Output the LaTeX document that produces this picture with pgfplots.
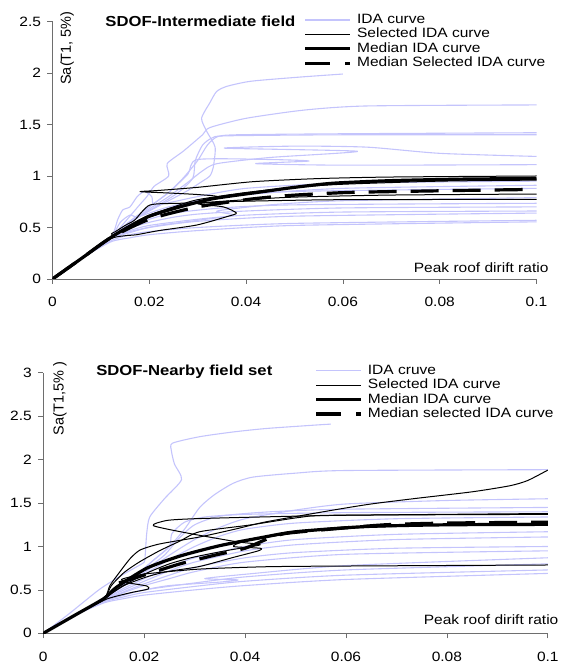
\documentclass[border=0pt]{standalone}
\usepackage{fontspec}
\setmainfont{Liberation Sans}[FakeStretch=1.15]
\newfontfamily\ylfont{Liberation Sans}
\usepackage{pgfplots}
\pgfplotsset{compat=1.18}

\definecolor{idacol}{RGB}{196,196,252}
\definecolor{axcol}{RGB}{110,110,110}

\pgfplotsset{
  ida/.style={idacol, line width=1.1pt, smooth, tension=0.4, line join=round},
  sel/.style={black, line width=1pt, smooth, tension=0.4, line join=round},
  med/.style={black, line width=3.2pt, smooth, tension=0.4, line join=round},
  meds/.style={black, line width=3.2pt, smooth, tension=0.4, dash pattern=on 28pt off 14pt},
  panel/.style={
    scale only axis,
    axis lines=left,
    axis line style={-, axcol, line width=0.8pt},
    xmin=0, xmax=0.1, ymin=0,
    tick align=outside,
    major tick length=5pt,
    tick style={axcol, line width=0.8pt},
    xtick={0,0.02,0.04,0.06,0.08,0.1},
    xticklabels={0,0.02,0.04,0.06,0.08,0.1},
    ticklabel style={font=\fontsize{13.5}{15}\selectfont},
    xticklabel style={yshift=-10pt},
    yticklabel style={xshift=-3pt},
    /pgf/number format/assume math mode=true,
    ylabel style={anchor=center, font=\ylfont\fontsize{14.5}{16}\selectfont},
    xlabel style={anchor=east, font=\fontsize{13.5}{15}\selectfont},
    title style={anchor=west, font=\bfseries\fontsize{14.5}{16}\selectfont},
    legend image code/.code={\draw[#1] (0pt,0pt) -- (45pt,0pt);},
    legend style={draw=none, fill=none, anchor=north west,
      font=\fontsize{13.5}{14}\selectfont, inner sep=0pt,
      row sep=1.4pt, column sep=5pt,
      nodes={inner sep=0pt, text height=10pt, text depth=3pt}},
    legend cell align=left,
  }
}

\begin{document}
\begin{tikzpicture}
\path[use as bounding box] (0,0) rectangle (569pt,664pt);

% ---------------- Intermediate field set ----------------
\begin{axis}[panel,
  at={(52.5pt,385pt)}, anchor=south west,
  width=484pt, height=257.5pt,
  ymax=2.5, ytick={0,0.5,1,1.5,2,2.5}, yticklabels={0,0.5,1,1.5,2,2.5},
  ylabel={Sa(T1, 5\%)}, ylabel style={at={(axis description cs:0.030,0.897)}},
  xlabel={Peak roof dirift ratio}, xlabel style={at={(axis description cs:1.032,0.043)}},
  title={SDOF-Intermediate field}, title style={at={(axis description cs:0.102,0.979)}},
  legend style={at={(axis description cs:0.519,1.032)}},
]
% IDA curves
\addplot[ida] coordinates {(0,0) (0.006,0.2) (0.012,0.40) (0.016,0.55) (0.020,0.66) (0.024,0.76) (0.028,0.86) (0.031,0.95) (0.0325,1.0) (0.0332,1.08) (0.0336,1.28) (0.0319,1.43) (0.0308,1.56) (0.0325,1.71) (0.0339,1.82) (0.036,1.87) (0.041,1.92) (0.051,1.96) (0.060,1.99)};
\addlegendentry{IDA curve}
\addplot[ida, forget plot] coordinates {(0,0) (0.006,0.2) (0.012,0.40) (0.014,0.50) (0.016,0.61) (0.018,0.72) (0.0195,0.80) (0.021,0.90) (0.024,1.0) (0.0237,1.12) (0.027,1.24) (0.031,1.40) (0.0325,1.47) (0.040,1.56) (0.052,1.64) (0.065,1.68) (0.1,1.69)};
\addplot[ida, forget plot] coordinates {(0,0) (0.006,0.2) (0.012,0.40) (0.016,0.56) (0.020,0.70) (0.024,0.84) (0.027,0.98) (0.030,1.15) (0.032,1.30) (0.034,1.38) (0.038,1.40) (0.06,1.41) (0.1,1.42)};
\addplot[ida, forget plot] coordinates {(0,0) (0.006,0.2) (0.012,0.40) (0.016,0.54) (0.019,0.64) (0.022,0.72) (0.026,0.84) (0.029,0.98) (0.0295,1.15) (0.031,1.30) (0.033,1.37) (0.036,1.39) (0.06,1.40) (0.1,1.40)};
\addplot[ida, forget plot] coordinates {(0,0) (0.006,0.2) (0.012,0.40) (0.016,0.55) (0.020,0.68) (0.024,0.80) (0.028,0.94) (0.031,1.05) (0.034,1.12) (0.045,1.18) (0.063,1.24) (0.0356,1.27) (0.050,1.29) (0.065,1.28) (0.080,1.22) (0.1,1.19)};
\addplot[ida, forget plot] coordinates {(0,0) (0.006,0.2) (0.012,0.40) (0.016,0.56) (0.020,0.70) (0.024,0.84) (0.028,1.02) (0.030,1.16) (0.045,1.16) (0.053,1.145) (0.042,1.12) (0.06,1.105) (0.1,1.11)};
\addplot[ida, forget plot] coordinates {(0,0) (0.006,0.2) (0.012,0.40) (0.0135,0.58) (0.0145,0.67) (0.016,0.70) (0.0175,0.80) (0.019,0.85) (0.0205,0.80) (0.021,0.72) (0.025,0.75) (0.030,0.80) (0.040,0.88) (0.060,0.93) (0.1,0.95)};
\addplot[ida, forget plot] coordinates {(0,0) (0.006,0.2) (0.012,0.40) (0.016,0.52) (0.020,0.61) (0.025,0.70) (0.030,0.76) (0.04,0.82) (0.06,0.88) (0.1,0.91)};
\addplot[ida, forget plot] coordinates {(0,0) (0.006,0.2) (0.012,0.40) (0.014,0.55) (0.016,0.62) (0.0175,0.60) (0.020,0.64) (0.024,0.70) (0.030,0.76) (0.036,0.80) (0.05,0.85) (0.1,0.88)};
\addplot[ida, forget plot] coordinates {(0,0) (0.006,0.2) (0.012,0.39) (0.016,0.46) (0.022,0.52) (0.030,0.57) (0.0375,0.62) (0.034,0.66) (0.045,0.72) (0.06,0.76) (0.1,0.79)};
\addplot[ida, forget plot] coordinates {(0,0) (0.006,0.2) (0.012,0.40) (0.016,0.50) (0.020,0.58) (0.025,0.64) (0.035,0.69) (0.05,0.72) (0.1,0.735)};
\addplot[ida, forget plot] coordinates {(0,0) (0.006,0.2) (0.012,0.40) (0.015,0.48) (0.020,0.55) (0.025,0.60) (0.030,0.63) (0.04,0.66) (0.06,0.69) (0.1,0.70)};
\addplot[ida, forget plot] coordinates {(0,0) (0.006,0.2) (0.012,0.39) (0.016,0.47) (0.020,0.52) (0.03,0.58) (0.04,0.62) (0.06,0.65) (0.1,0.66)};
\addplot[ida, forget plot] coordinates {(0,0) (0.006,0.2) (0.012,0.39) (0.016,0.45) (0.02,0.50) (0.03,0.56) (0.05,0.61) (0.1,0.64)};
\addplot[ida, forget plot] coordinates {(0,0) (0.006,0.2) (0.012,0.37) (0.016,0.43) (0.02,0.46) (0.03,0.50) (0.05,0.54) (0.1,0.57)};
\addplot[ida, forget plot] coordinates {(0,0) (0.006,0.2) (0.012,0.36) (0.016,0.40) (0.02,0.43) (0.03,0.47) (0.05,0.52) (0.1,0.555)};
% selected IDA curves
\addplot[sel] coordinates {(0,0) (0.006,0.2) (0.012,0.40) (0.016,0.52) (0.020,0.60) (0.025,0.68) (0.030,0.75) (0.034,0.80) (0.030,0.82) (0.024,0.835) (0.0181,0.848) (0.022,0.86) (0.030,0.89) (0.0415,0.945) (0.055,0.975) (0.07,0.99) (0.1,1.0)};
\addlegendentry{Selected IDA curve}
\addplot[sel, forget plot] coordinates {(0,0) (0.006,0.2) (0.012,0.40) (0.0122,0.44) (0.013,0.46) (0.015,0.52) (0.017,0.573) (0.0201,0.718) (0.0263,0.735) (0.032,0.745) (0.04,0.77) (0.05,0.795) (0.07,0.815) (0.1,0.825)};
\addplot[sel, forget plot] coordinates {(0,0) (0.006,0.2) (0.012,0.39) (0.015,0.42) (0.0174,0.43) (0.022,0.47) (0.0298,0.524) (0.036,0.605) (0.038,0.64) (0.0353,0.70) (0.030,0.73) (0.036,0.75) (0.045,0.76) (0.06,0.77) (0.1,0.773)};
\addplot[sel, forget plot] coordinates {(0,0) (0.006,0.2) (0.012,0.40) (0.016,0.52) (0.020,0.62) (0.025,0.70) (0.030,0.77) (0.040,0.84) (0.050,0.89) (0.060,0.92) (0.08,0.95) (0.1,0.96)};
% medians
\addplot[med] coordinates {(0,0) (0.006,0.2) (0.0126,0.42) (0.0195,0.60) (0.0263,0.70) (0.0332,0.78) (0.043,0.845) (0.05,0.89) (0.058,0.93) (0.07,0.955) (0.085,0.97) (0.1,0.975)};
\addlegendentry{Median IDA curve}
\addplot[meds, legend image post style={dash pattern=on 25pt off 15pt}] coordinates {(0,0) (0.006,0.2) (0.012,0.40) (0.02,0.58) (0.03,0.70) (0.04,0.77) (0.046,0.80) (0.052,0.82) (0.061,0.84) (0.072,0.85) (0.085,0.86) (0.1,0.87)};
\addlegendentry{Median Selected IDA curve}
\end{axis}

% ---------------- Nearby field set ----------------
\begin{axis}[panel,
  at={(43.3pt,30.7pt)}, anchor=south west,
  width=504.5pt, height=260.4pt,
  ymax=3, ytick={0,0.5,1,1.5,2,2.5,3}, yticklabels={0,0.5,1,1.5,2,2.5,3},
  ylabel={Sa(T1,5\% )}, ylabel style={at={(axis description cs:0.033,0.902)}},
  xlabel={Peak roof dirift ratio}, xlabel style={at={(axis description cs:1.028,0.051)}},
  title={SDOF-Nearby field set}, title style={at={(axis description cs:0.098,0.982)}},
  legend style={at={(axis description cs:0.5376,1.034)}},
]
% IDA curves
\addplot[ida] coordinates {(0,0) (0.005,0.22) (0.011,0.50) (0.015,0.65) (0.018,0.75) (0.020,0.82) (0.0202,0.90) (0.0205,1.15) (0.0211,1.34) (0.024,1.55) (0.0274,1.77) (0.026,1.95) (0.0254,2.10) (0.0256,2.19) (0.031,2.265) (0.0377,2.32) (0.0443,2.36) (0.0542,2.40) (0.057,2.41)};
\addlegendentry{IDA cruve}
\addplot[ida, forget plot] coordinates {(0,0) (0.006,0.2) (0.012,0.40) (0.015,0.52) (0.019,0.70) (0.022,0.85) (0.025,1.0) (0.028,1.20) (0.031,1.45) (0.034,1.60) (0.0377,1.73) (0.0416,1.80) (0.05,1.845) (0.0595,1.875) (0.1,1.885)};
\addplot[ida, forget plot] coordinates {(0,0) (0.006,0.2) (0.012,0.40) (0.016,0.55) (0.020,0.70) (0.025,0.90) (0.030,1.08) (0.035,1.22) (0.04,1.32) (0.05,1.42) (0.06,1.49) (0.08,1.53) (0.1,1.55)};
\addplot[ida, forget plot] coordinates {(0,0) (0.006,0.2) (0.012,0.40) (0.016,0.56) (0.020,0.72) (0.024,0.90) (0.027,1.10) (0.030,1.25) (0.035,1.35) (0.045,1.40) (0.06,1.43) (0.1,1.45)};
\addplot[ida, forget plot] coordinates {(0,0) (0.006,0.2) (0.012,0.40) (0.016,0.56) (0.019,0.70) (0.022,0.85) (0.025,1.0) (0.0255,1.15) (0.028,1.28) (0.032,1.34) (0.04,1.37) (0.06,1.39) (0.1,1.40)};
\addplot[ida, forget plot] coordinates {(0,0) (0.006,0.2) (0.012,0.40) (0.016,0.55) (0.020,0.68) (0.025,0.85) (0.03,1.0) (0.035,1.12) (0.04,1.20) (0.05,1.27) (0.07,1.32) (0.1,1.34)};
\addplot[ida, forget plot] coordinates {(0,0) (0.006,0.2) (0.012,0.39) (0.016,0.52) (0.02,0.63) (0.025,0.76) (0.03,0.87) (0.04,1.0) (0.05,1.08) (0.07,1.14) (0.1,1.17)};
\addplot[ida, forget plot] coordinates {(0,0) (0.006,0.2) (0.012,0.39) (0.016,0.50) (0.02,0.60) (0.025,0.72) (0.03,0.82) (0.04,0.95) (0.05,1.02) (0.07,1.08) (0.1,1.11)};
\addplot[ida, forget plot] coordinates {(0,0) (0.006,0.2) (0.012,0.38) (0.016,0.48) (0.02,0.57) (0.025,0.67) (0.03,0.76) (0.04,0.87) (0.05,0.93) (0.07,0.98) (0.1,1.0)};
\addplot[ida, forget plot] coordinates {(0,0) (0.006,0.2) (0.012,0.38) (0.016,0.47) (0.02,0.55) (0.025,0.63) (0.03,0.71) (0.04,0.82) (0.06,0.91) (0.1,0.95)};
\addplot[ida, forget plot] coordinates {(0,0) (0.006,0.2) (0.012,0.38) (0.016,0.45) (0.02,0.50) (0.025,0.55) (0.035,0.59) (0.0386,0.615) (0.032,0.63) (0.04,0.68) (0.06,0.78) (0.1,0.87)};
\addplot[ida, forget plot] coordinates {(0,0) (0.006,0.2) (0.012,0.37) (0.016,0.44) (0.02,0.50) (0.03,0.58) (0.04,0.65) (0.06,0.73) (0.1,0.80)};
\addplot[ida, forget plot] coordinates {(0,0) (0.006,0.2) (0.012,0.36) (0.016,0.42) (0.02,0.47) (0.03,0.54) (0.04,0.60) (0.06,0.67) (0.1,0.73)};
\addplot[ida, forget plot] coordinates {(0,0) (0.006,0.2) (0.012,0.35) (0.016,0.40) (0.02,0.44) (0.03,0.50) (0.04,0.55) (0.06,0.62) (0.1,0.69)};
% selected IDA curves
\addplot[sel] coordinates {(0,0) (0.006,0.2) (0.012,0.40) (0.0132,0.55) (0.0152,0.71) (0.0172,0.86) (0.0192,0.96) (0.0231,1.03) (0.031,1.11) (0.038,1.20) (0.0443,1.286) (0.0575,1.42) (0.065,1.49) (0.074,1.555) (0.085,1.63) (0.0925,1.70) (0.096,1.76) (0.1,1.88)};
\addlegendentry{Selected IDA curve}
\addplot[sel, forget plot] coordinates {(0,0) (0.006,0.2) (0.012,0.40) (0.015,0.52) (0.020,0.68) (0.025,0.80) (0.030,0.88) (0.037,0.96) (0.043,1.02) (0.0383,1.055) (0.029,1.15) (0.0218,1.24) (0.0245,1.30) (0.030,1.32) (0.043,1.34) (0.06,1.36) (0.1,1.38)};
\addplot[sel, forget plot] coordinates {(0,0) (0.006,0.2) (0.012,0.40) (0.016,0.55) (0.0205,0.65) (0.0245,0.71) (0.031,0.77) (0.0377,0.875) (0.0426,0.95) (0.043,0.98) (0.0377,1.0) (0.040,1.06) (0.05,1.16) (0.06,1.21) (0.08,1.25) (0.1,1.27)};
\addplot[sel, forget plot] coordinates {(0,0) (0.006,0.2) (0.012,0.38) (0.014,0.42) (0.0175,0.47) (0.0208,0.51) (0.0205,0.545) (0.017,0.58) (0.0155,0.62) (0.018,0.66) (0.0211,0.69) (0.031,0.74) (0.0443,0.767) (0.06,0.775) (0.1,0.787)};
\addplot[sel, forget plot] coordinates {(0,0) (0.006,0.2) (0.012,0.40) (0.0135,0.55) (0.016,0.70) (0.019,0.82) (0.023,0.95) (0.027,1.06) (0.031,1.17) (0.041,1.248) (0.0509,1.336) (0.0575,1.36) (0.1,1.37)};
% medians
\addplot[med] coordinates {(0,0) (0.006,0.2) (0.012,0.40) (0.0145,0.53) (0.0205,0.75) (0.0271,0.89) (0.035,1.01) (0.043,1.10) (0.05,1.17) (0.064,1.23) (0.08,1.25) (0.1,1.255)};
\addlegendentry{Median IDA curve}
\addplot[meds, legend image post style={dash pattern=on 25pt off 15pt}] coordinates {(0.015,0.58) (0.0205,0.68) (0.0271,0.80) (0.034,0.90) (0.040,0.98) (0.0449,1.10) (0.048,1.15) (0.055,1.19) (0.0677,1.25) (0.08,1.27) (0.1,1.28)};
\addlegendentry{Median selected IDA curve}
\end{axis}
\end{tikzpicture}
\end{document}
